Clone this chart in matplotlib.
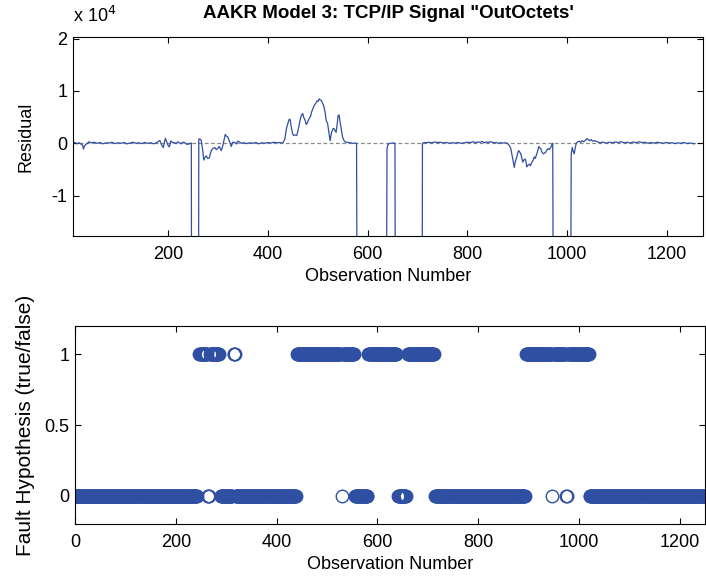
import numpy as np
import matplotlib
matplotlib.use('Agg')
import matplotlib.pyplot as plt
from matplotlib.ticker import FuncFormatter

plt.rcParams['font.family'] = ['Liberation Sans', 'DejaVu Sans']

# residual trace (observation, residual); -60000 = off the chart
res_obs = [10, 14, 18, 22, 26, 29, 31, 33, 36, 40, 42, 46, 52, 58, 64, 70, 76, 82, 88, 94,
           100, 106, 112, 118, 124, 130, 136, 142, 148, 154, 160, 166, 172, 178, 184, 187,
           191, 195, 200, 203, 206, 210, 213, 217, 220, 226, 230, 233, 237, 240, 245, 247,
           248, 261,
           262, 264, 267, 270, 272, 275, 277, 280, 283, 285, 287, 290, 294, 297, 300, 303,
           307, 310, 313, 315, 317, 320, 323, 325, 327, 330, 333, 337, 340, 343, 347, 352,
           358, 364, 370, 376, 382, 388, 394, 400, 406, 412, 418, 424, 428, 431, 434, 436,
           438, 441, 443, 445, 447, 450, 452, 455, 458, 460, 463, 466, 468, 470, 472, 475,
           477, 479, 481, 483, 486, 488, 491, 493, 496, 499, 501, 503, 505, 508, 510, 512,
           515, 517, 519, 520, 522, 525, 527, 528, 531, 533, 535, 537, 539, 541, 543, 544,
           546, 548, 550, 553, 556, 560, 564, 570, 575, 578,
           580, 637, 639, 641, 645, 650, 655, 656, 709,
           710, 714, 718, 722, 728, 734, 740, 746, 752, 758, 764, 770, 776, 782, 788, 794,
           800, 806, 812, 816, 820, 826, 830, 834, 838, 842, 846, 850, 854, 858, 862, 866,
           870, 875, 880, 884, 887, 889, 892, 894, 896, 899, 901, 903, 905, 907, 909, 911,
           913, 916, 918, 919, 921, 924, 926, 929, 931, 934, 936, 939, 941, 943, 945, 947,
           949, 952, 954, 957, 959, 962, 964, 967, 969, 971,
           973, 1006,
           1008, 1010, 1012, 1014, 1016, 1018, 1021, 1024, 1027, 1030, 1033, 1037, 1040,
           1042, 1045, 1048, 1051, 1055, 1060, 1066, 1072, 1078, 1084, 1090, 1096, 1102,
           1108, 1114, 1120, 1126, 1132, 1138, 1144, 1150, 1156, 1162, 1168, 1174, 1180,
           1186, 1192, 1198, 1204, 1210, 1216, 1222, 1228, 1234, 1240, 1246, 1250, 1254]
res_val = [0, 150, -100, 100, -150, -300, -1100, -500, -200, 100, 300, 100, 200, 0, 150, -100,
           100, 50, 200, -50, 100, 0, 150, -100, 50, 200, 0, 100, -50, 150, 0, 100, -100, 150,
           550, -200, -800, 950, -300, -700, 450, 100, 150, -50, 300, -100, 200, 150, -150,
           -200, 0, 50,
           -60000, -60000,
           800, 850, 500, -1500, -3200, -2600, -2400, -2900, -2800, -2000, -1400, -1000, -800,
           -1200, -1000, -600, -1400, -500, 800, 1700, 1400, 1200, 500, 0, -600, 200, 200,
           -100, 400, 300, 0, 100, -50, 100, 0, 150, -100, 100, 0, 150, 50, 200, 100, 150,
           50, 200, 700, 1800, 3000, 4000, 4600, 4500, 3200, 1800, 1500, 1600, 1500, 2100,
           3500, 4900, 5400, 5700, 5000, 4400, 3600, 3800, 4300, 4700, 5200, 6000, 6700, 7200,
           7600, 8100, 8000, 8500, 8300, 8100, 7600, 7200, 6000, 4400, 4000, 3800, 2500, 500,
           1500, 2100, 2800, 2800, 2400, 2100, 3500, 5300, 5400, 4700, 3500, 2400, 1200, 500,
           200, 200, 100, 0, 50, 0,
           -60000, -60000, -1000, -200, 0, 50, 0, -60000, -60000,
           0, 150, 100, 200, 100, 250, 150, 200, 50, 150, 0, 100, 50, 150, 0, 100, 200, 150,
           300, 100, 250, 200, 350, 100, 250, 150, 300, 200, 100, 150, 0, 100, 50, 100, 0,
           -400, -1000, -2000, -3500, -4600, -3500, -2600, -1800, -1400, -1700, -2000, -2800,
           -3600, -3200, -3000, -3800, -4500, -4200, -4000, -4300, -3600, -3400, -2600, -2900,
           -2000, -1400, -600, -900, -1000, -1600, -2000, -1900, -1700, -1300, -1000, -1200,
           -800, -300, 0,
           -60000, -60000,
           -2000, -800, -1500, -2000, -900, 0, 300, 400, 200, 500, 300, 600, 900, 700, 500,
           700, 400, 500, 300, 100, 250, 0, 200, 100, 250, 150, 300, 100, 200, 50, 250, 100,
           300, 150, 200, 0, 150, 50, 200, 100, 0, 150, 50, 100, -50, 100, 0, 150, -50, 50,
           0, -100]

# fault hypothesis runs: first observation, last observation, value
run_start = [0, 247, 263, 268, 289, 315, 319, 441, 529, 532, 556, 582, 641, 660, 715, 895,
             947, 950, 975, 979, 1021]
run_end = [242, 261, 265, 285, 311, 317, 438, 526, 529, 553, 580, 637, 656, 712, 892, 945,
           947, 973, 976, 1019, 1262]
run_value = [0, 1, 0, 1, 0, 1, 0, 1, 0, 1, 0, 1, 0, 1, 0, 1, 0, 1, 0, 1, 0]

fault_obs = np.concatenate([np.arange(s, e + 1) for s, e in zip(run_start, run_end)])
fault_val = np.concatenate([np.full(e - s + 1, v) for s, e, v in zip(run_start, run_end, run_value)])

blue = '#2F4FA3'
W, H = 706, 578
fig = plt.figure(figsize=(W / 100, H / 100), dpi=100)
ax1 = fig.add_axes([73 / W, 1 - 236 / H, 630 / W, 199 / H])
ax2 = fig.add_axes([75 / W, 1 - 524 / H, 630 / W, 198 / H])

for ax in (ax1, ax2):
    ax.tick_params(direction='in', length=4, width=0.8, top=True, right=True,
                   labelsize=13, colors='black')
    ax.tick_params(axis='x', pad=7)
    ax.tick_params(axis='y', pad=4)
    for sp in ax.spines.values():
        sp.set_linewidth(0.8)

# top: residual
ax1.axhline(0, color='#8a8a8a', lw=0.9, ls=(0, (3, 2)), zorder=1)
ax1.plot(res_obs, res_val, color=blue, lw=0.9, zorder=2)
ax1.set_xlim(10, 1272)
ax1.set_ylim(-1.77e4, 2.03e4)
ax1.set_xticks([200, 400, 600, 800, 1000, 1200])
ax1.set_yticks([-1e4, 0, 1e4, 2e4])
ax1.yaxis.set_major_formatter(FuncFormatter(lambda v, p: '%g' % (v / 1e4)))
ax1.set_xlabel('Observation Number', fontsize=13, labelpad=4)
ax1.set_ylabel('Residual', fontsize=13, labelpad=12)
ax1.set_title('AAKR Model 3: TCP/IP Signal "OutOctets\'', fontsize=13.5, fontweight='bold', pad=14)
ax1.text(0.0, 1.055, 'x 10$^{4}$', transform=ax1.transAxes, fontsize=13, ha='left', va='bottom')

# bottom: fault hypothesis
ax2.plot(fault_obs, fault_val, 'o', mfc='none', mec=blue, ms=9, mew=1.0)
ax2.set_xlim(0, 1250)
ax2.set_ylim(-0.2, 1.2)
ax2.set_xticks([0, 200, 400, 600, 800, 1000, 1200])
ax2.set_yticks([0, 0.5, 1])
ax2.yaxis.set_major_formatter(FuncFormatter(lambda v, p: '%g' % v))
ax2.set_xlabel('Observation Number', fontsize=13, labelpad=4)
ax2.set_ylabel('Fault Hypothesis (true/false)', fontsize=15, labelpad=7)

fig.savefig('out.png', dpi=100)
